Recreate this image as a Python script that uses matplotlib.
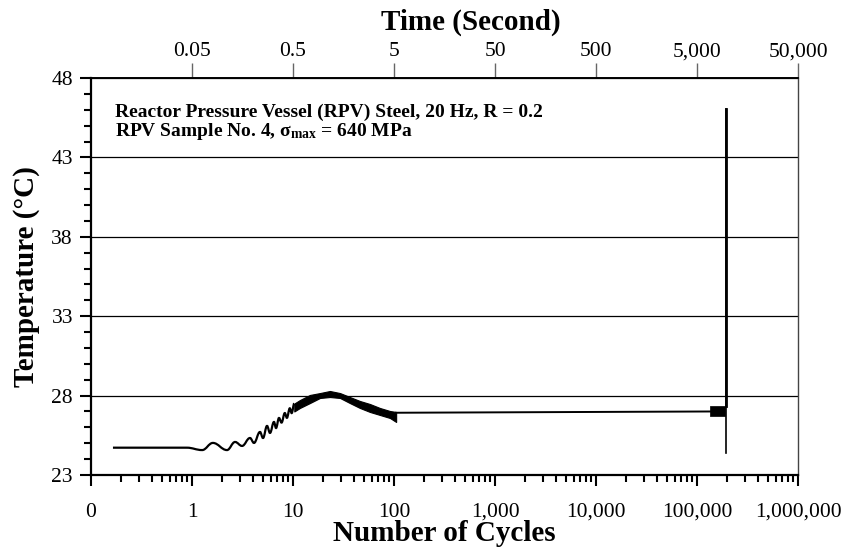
import matplotlib
matplotlib.use("Agg")
import numpy as np
import matplotlib.pyplot as plt
from matplotlib.path import Path
from matplotlib.patches import PathPatch
from matplotlib.ticker import LogLocator, FixedLocator, NullLocator, MultipleLocator, FixedFormatter

plt.rcParams['font.family'] = ['Liberation Serif', 'DejaVu Serif']
plt.rcParams['mathtext.fontset'] = 'custom'
plt.rcParams['mathtext.rm'] = 'Liberation Serif'
plt.rcParams['mathtext.bf'] = 'Liberation Serif:bold'
plt.rcParams['mathtext.it'] = 'Liberation Serif:italic'

# ---- data ----
# early part: individual oscillation peaks/troughs (cycles, deg C)
early_cycles = [0.165, 0.89, 1.26, 1.61, 2.22, 2.67, 3.13, 3.75, 4.11, 4.71, 5.05,
                5.53, 5.92, 6.48, 6.79, 7.27, 7.7, 8.3, 8.7, 9.3, 9.7, 10.3]
early_temp = [24.72, 24.72, 24.57, 25.02, 24.57, 25.08, 24.83, 25.33, 25.02, 25.71, 25.33,
              26.09, 25.65, 26.34, 25.96, 26.59, 26.3, 26.9, 26.6, 27.2, 26.9, 27.5]

# dense oscillation band (envelope)
band_cycles = [10.3, 11.7, 14.7, 18.5, 23.2, 29.2, 36.6, 46.0, 57.8, 72.6, 91.2, 105]
band_upper = [27.5, 27.72, 28.04, 28.16, 28.29, 28.16, 27.91, 27.66, 27.47, 27.22, 27.03, 26.97]
band_lower = [27.0, 27.22, 27.53, 27.85, 27.91, 27.85, 27.53, 27.22, 26.97, 26.78, 26.59, 26.34]

# steady part
steady_cycles = [105, 135000]
steady_temp = [26.92, 27.0]

# final block before failure
block_cycles = [135000, 189000]
block_upper = [27.35, 27.35]
block_lower = [26.72, 26.72]

# failure spike
spike_cycles = 194000
spike_min = 24.4
spike_max = 46.05

x_major = [0.1, 1, 10, 100, 1e3, 1e4, 1e5, 1e6]
x_labels = ["0", "1", "10", "100", "1,000", "10,000", "100,000", "1,000,000"]
top_ticks = [0.05, 0.5, 5, 50, 500, 5000, 50000]
top_labels = ["0.05", "0.5", "5", "50", "500", "5,000", "50,000"]
y_ticks = [23, 28, 33, 38, 43, 48]
freq = 20.0

# ---- figure ----
W, H = 847, 548
fig = plt.figure(figsize=(W/100, H/100), dpi=100)
ax = fig.add_axes([91/W, 1-475/H, 707/W, 397/H])
ax.set_xscale('log')
ax.set_xlim(0.1, 1e6)
ax.set_ylim(23, 48)

# smooth wave through the read peaks/troughs: cubic Bezier segments with
# horizontal tangents at each extreme (drawn in log-x space)
lx = np.log10(early_cycles)
verts = [(early_cycles[0], early_temp[0])]
codes = [Path.MOVETO]
for i in range(len(lx) - 1):
    d = lx[i+1] - lx[i]
    c1 = (10 ** (lx[i] + d * 0.4), early_temp[i])
    c2 = (10 ** (lx[i+1] - d * 0.4), early_temp[i+1])
    verts += [c1, c2, (early_cycles[i+1], early_temp[i+1])]
    codes += [Path.CURVE4] * 3
ax.add_patch(PathPatch(Path(verts, codes), facecolor='none', edgecolor='black', lw=1.6))

ax.fill_between(band_cycles, band_lower, band_upper, color='black', lw=0.8, edgecolor='black')
ax.plot(steady_cycles, steady_temp, color='black', lw=1.4)
ax.fill_between(block_cycles, block_lower, block_upper, color='black', lw=0.5)
ax.plot([spike_cycles, spike_cycles], [spike_min, spike_max], color='black', lw=1.2)
ax.plot([spike_cycles, spike_cycles], [block_upper[0], spike_max], color='black', lw=2.0)

# grid
ax.set_yticks(y_ticks)
ax.yaxis.set_minor_locator(MultipleLocator(1))
ax.yaxis.grid(True, which='major', color='black', lw=0.9)

ax.xaxis.set_major_locator(FixedLocator(x_major))
ax.xaxis.set_major_formatter(FixedFormatter(x_labels))
ax.xaxis.set_minor_locator(LogLocator(base=10, subs=range(2, 10), numticks=30))

ax.tick_params(axis='both', which='major', direction='out', length=8, width=1.5,
               labelsize=15.5, color='black')
ax.tick_params(axis='both', which='minor', direction='out', length=5, width=1.5, color='black')
ax.tick_params(axis='x', which='major', pad=12)
ax.tick_params(axis='y', which='major', pad=5)

for s in ['left', 'bottom']:
    ax.spines[s].set_linewidth(1.6)
ax.spines['top'].set_linewidth(1.2)
ax.spines['right'].set_linewidth(1.0)
ax.spines['right'].set_color('#444444')

ax.set_xlabel("Number of Cycles", fontsize=21, fontweight='bold', labelpad=-1)
ax.set_ylabel("Temperature (°C)", fontsize=21, fontweight='bold', labelpad=8)

sec = ax.secondary_xaxis('top', functions=(lambda c: c / freq, lambda t: t * freq))
sec.set_xscale('log')
sec.xaxis.set_major_locator(FixedLocator(top_ticks))
sec.xaxis.set_major_formatter(FixedFormatter(top_labels))
sec.xaxis.set_minor_locator(NullLocator())
sec.tick_params(axis='x', which='major', direction='out', length=11, width=1.0,
                color='#666666', labelsize=15.5, pad=1)
sec.spines['top'].set_linewidth(1.2)
sec.set_xlabel("Time (Second)", fontsize=21, fontweight='bold', labelpad=9)
sec.xaxis.label.set_x((471 - 91) / 707)

fig.text(115/W, 1-117/H, "Reactor Pressure Vessel (RPV) Steel, 20 Hz, R = 0.2",
         fontsize=14, fontweight='bold', va='baseline', ha='left')
fig.text(115/W, 1-136/H, r"RPV Sample No. 4, $\mathbf{\sigma}_{\mathbf{max}}$ = 640 MPa",
         fontsize=14, fontweight='bold', va='baseline', ha='left')

fig.savefig("out.png", dpi=100)
